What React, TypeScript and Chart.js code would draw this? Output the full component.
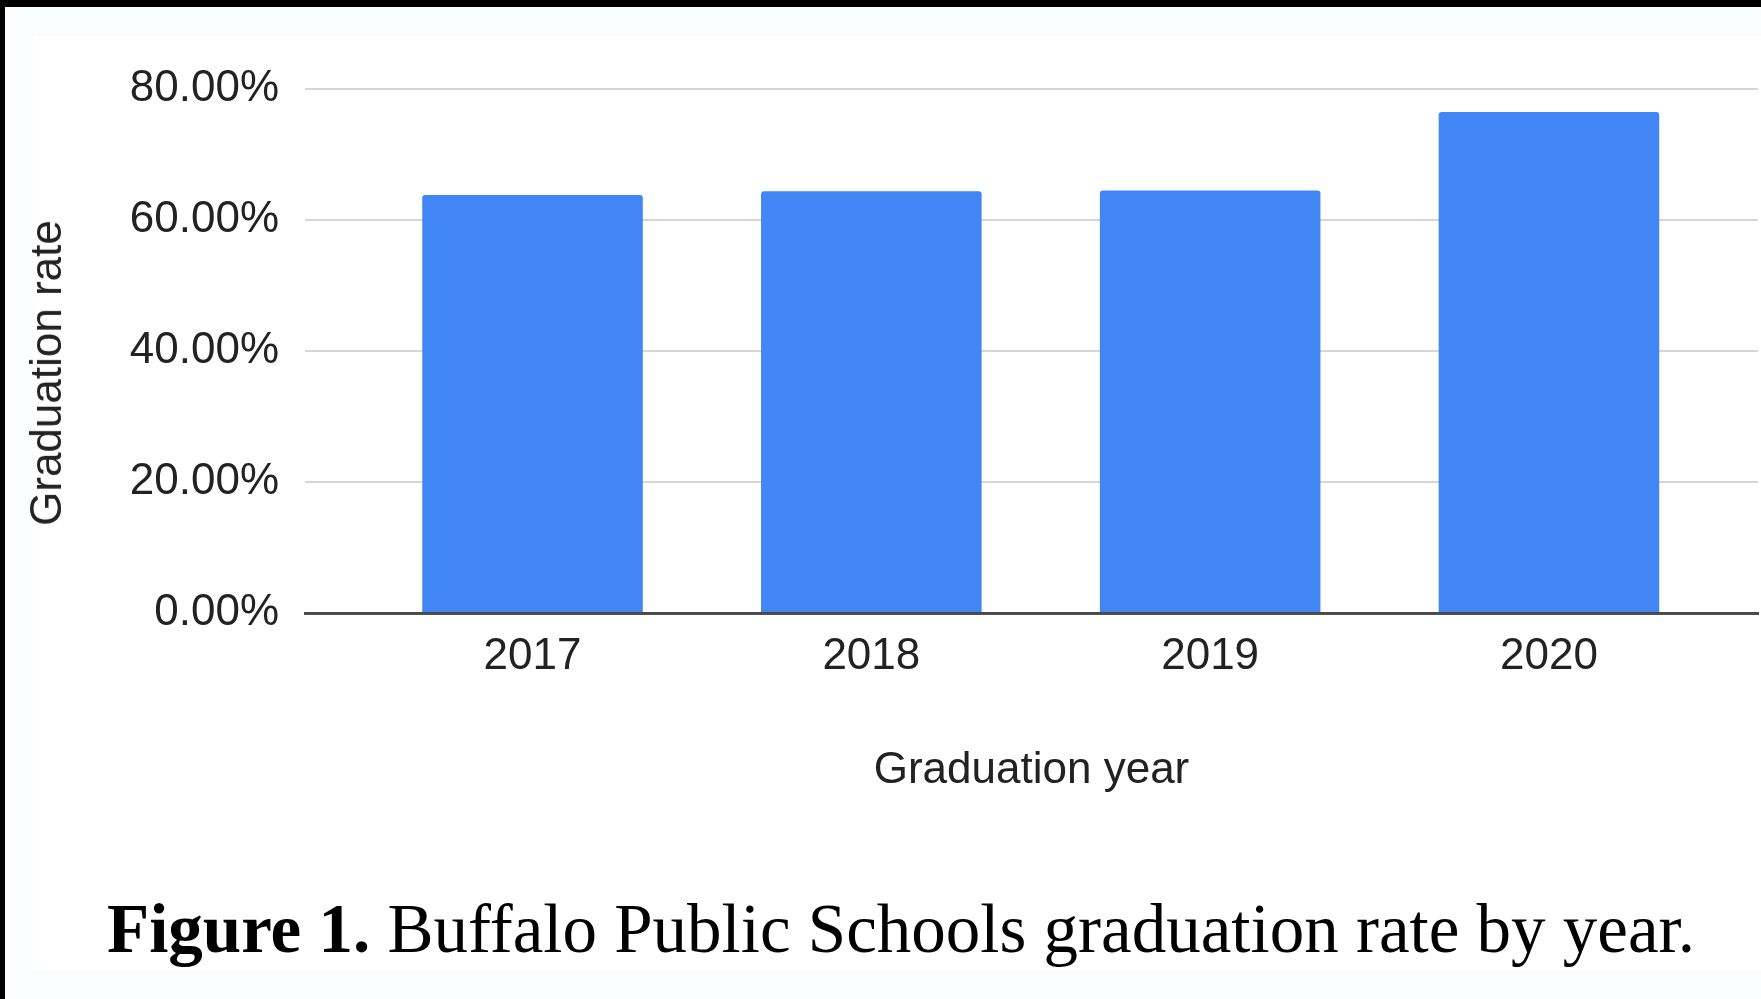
import { useEffect, useRef } from "react";
import { Chart, registerables } from "chart.js";

Chart.register(...registerables);

const years = [2017, 2018, 2019, 2020];
const gradRates = [63.8, 64.4, 64.5, 76.5];
const yTickValues = [0, 20, 40, 60, 80];
const xTitle = "Graduation year";
const yTitle = "Graduation rate";
const captionBold = "Figure 1.";
const captionRest = " Buffalo Public Schools graduation rate by year.";

const X_MIN = 2016.3285;
const X_MAX = 2020.617;

export default function App() {
  const ref = useRef<HTMLCanvasElement>(null);

  useEffect(() => {
    document.body.style.margin = "0";
    Chart.defaults.font.family = "'Liberation Sans', Arial, sans-serif";
    const chart = new Chart(ref.current!, {
      type: "bar",
      data: {
        datasets: [
          {
            data: years.map((x, i) => ({ x, y: gradRates[i] })),
            backgroundColor: "#4285f4",
            borderRadius: { topLeft: 3, topRight: 3, bottomLeft: 0, bottomRight: 0 },
            borderSkipped: "bottom",
            categoryPercentage: 1,
            barPercentage: 0.651,
          } as any,
        ],
      },
      options: {
        responsive: false,
        animation: false,
        devicePixelRatio: 1,
        layout: { padding: { left: 0, top: 89, right: 3, bottom: 0 } },
        plugins: { legend: { display: false }, tooltip: { enabled: false } },
        scales: {
          x: {
            type: "linear",
            position: "bottom",
            offset: false,
            min: X_MIN,
            max: X_MAX,
            z: 1,
            afterDataLimits: (ax: any) => {
              ax.min = X_MIN;
              ax.max = X_MAX;
            },
            afterBuildTicks: (ax: any) => {
              ax.ticks = years.map((v) => ({ value: v }));
              ax.min = X_MIN;
              ax.max = X_MAX;
            },
            afterFit: (ax: any) => {
              ax.height = 386;
            },
            grid: { display: false, drawTicks: false, offset: false },
            border: { display: true, color: "rgba(40,40,40,0.8)", width: 3 },
            ticks: {
              padding: 17.5,
              color: "#222",
              font: { size: 44 },
              maxRotation: 0,
              autoSkip: false,
              callback: (v: any) => String(v),
            },
            title: {
              display: true,
              text: xTitle,
              color: "#222",
              font: { size: 44 },
              padding: { top: 0, bottom: 201.8 },
            },
          },
          y: {
            min: 0,
            max: 80,
            afterBuildTicks: (ax: any) => {
              ax.ticks = yTickValues.map((v) => ({ value: v }));
            },
            afterFit: (ax: any) => {
              ax.width = 305;
            },
            grid: { color: "#d6d6d6", lineWidth: 2, drawTicks: false },
            border: { display: false },
            ticks: {
              padding: 26,
              color: "#222",
              font: { size: 44 },
              callback: (v: any) => Number(v).toFixed(2) + "%",
            },
          },
        },
      } as any,
    });
    return () => chart.destroy();
  }, []);

  return (
    <div
      style={{
        position: "absolute",
        left: 0,
        top: 0,
        width: 1761,
        height: 999,
        background: "#fafcfe",
        overflow: "hidden",
      }}
    >
      <div style={{ position: "absolute", left: 33, top: 36, width: 1728, height: 934, background: "#ffffff" }} />
      <canvas
        ref={ref}
        width={1761}
        height={999}
        style={{ position: "absolute", left: 0, top: 0, width: 1761, height: 999, display: "block" }}
      />
      <div style={{ position: "absolute", left: 0, top: 0, width: 1761, height: 7, background: "#000" }} />
      <div style={{ position: "absolute", left: 0, top: 0, width: 5, height: 999, background: "#000" }} />
      <div
        style={{
          position: "absolute",
          left: 46,
          top: 372.5,
          transform: "translate(-50%, -50%) rotate(-90deg)",
          whiteSpace: "nowrap",
          fontFamily: "'Liberation Sans', Arial, sans-serif",
          fontSize: 44,
          lineHeight: "44px",
          color: "#222",
        }}
      >
        {yTitle}
      </div>
      <div
        style={{
          position: "absolute",
          left: 107,
          top: 895.3,
          whiteSpace: "nowrap",
          fontFamily: "'Liberation Serif', 'Times New Roman', serif",
          fontSize: 69,
          lineHeight: "69px",
          color: "#000",
        }}
      >
        <b>{captionBold}</b>
        {captionRest}
      </div>
    </div>
  );
}
